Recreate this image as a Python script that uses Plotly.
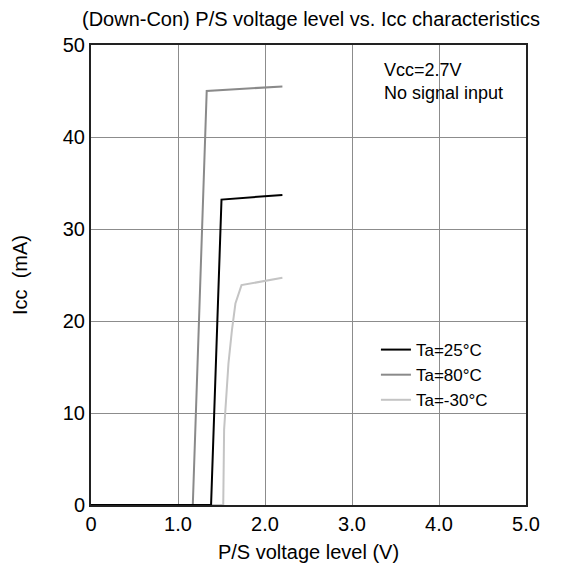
import plotly.graph_objects as go

# P/S 电压 (V) 与 Icc (mA) 的读数
v_25 = [0.0, 1.38, 1.50, 2.20]
icc_25 = [0.0, 0.0, 33.2, 33.7]

v_80 = [0.0, 1.17, 1.33, 2.20]
icc_80 = [0.0, 0.0, 45.0, 45.5]

v_m30 = [0.0, 1.52, 1.53, 1.58, 1.62, 1.66, 1.73, 2.20]
icc_m30 = [0.0, 0.0, 8.2, 15.4, 19.0, 21.9, 23.9, 24.7]

series = [
    ("Ta=25°C", v_25, icc_25, "#000000"),
    ("Ta=80°C", v_80, icc_80, "#8a8a8a"),
    ("Ta=-30°C", v_m30, icc_m30, "#c4c4c4"),
]

x_ticks = [0, 1, 2, 3, 4, 5]
x_tick_text = ["0", "1.0", "2.0", "3.0", "4.0", "5.0"]
y_ticks = [0, 10, 20, 30, 40, 50]

font = "Liberation Sans, Arial, sans-serif"

fig = go.Figure()
# 先画浅色，黑线最后画在上面
for name, x, y, color in reversed(series):
    fig.add_trace(
        go.Scatter(x=x, y=y, mode="lines", name=name, line=dict(color=color, width=2))
    )

fig.add_annotation(
    x=3.35, y=48.6, xref="x", yref="y",
    text="Vcc=2.7V<br>No signal input",
    showarrow=False, xanchor="left", yanchor="top", align="left",
    font=dict(size=18, color="#000000"),
)

# 页面 body 默认有 8px 外边距，所以图本身缩小 8px
fig.update_layout(
    width=561,
    height=559,
    margin=dict(l=83, r=43, t=37, b=62),
    paper_bgcolor="white",
    plot_bgcolor="white",
    font=dict(family=font, size=20, color="#000000"),
    title=dict(
        text="(Down-Con) P/S voltage level vs. Icc characteristics",
        x=0.54, xanchor="center", y=0.992, yanchor="top",
        pad=dict(t=0),
        font=dict(size=20),
    ),
    legend=dict(
        x=0.655, y=0.376, xanchor="left", yanchor="top",
        bgcolor="rgba(0,0,0,0)", font=dict(size=17),
        traceorder="reversed", itemwidth=30, tracegroupgap=0,
    ),
    showlegend=True,
)

fig.update_xaxes(
    range=[0, 5], tickvals=x_ticks, ticktext=x_tick_text,
    showgrid=True, gridcolor="#8c8c8c", gridwidth=1,
    showline=True, linecolor="#222222", linewidth=2, mirror=True,
    zeroline=False, ticks="", automargin=False,
    title=dict(text="P/S voltage level (V)", standoff=11, font=dict(size=20)),
)
fig.update_yaxes(
    range=[0, 50], tickvals=y_ticks,
    showgrid=True, gridcolor="#8c8c8c", gridwidth=1,
    showline=True, linecolor="#222222", linewidth=2, mirror=True,
    zeroline=False, ticks="", automargin=False,
    title=dict(text="Icc  (mA)", standoff=30, font=dict(size=20)),
)

fig.write_html("out.html")
